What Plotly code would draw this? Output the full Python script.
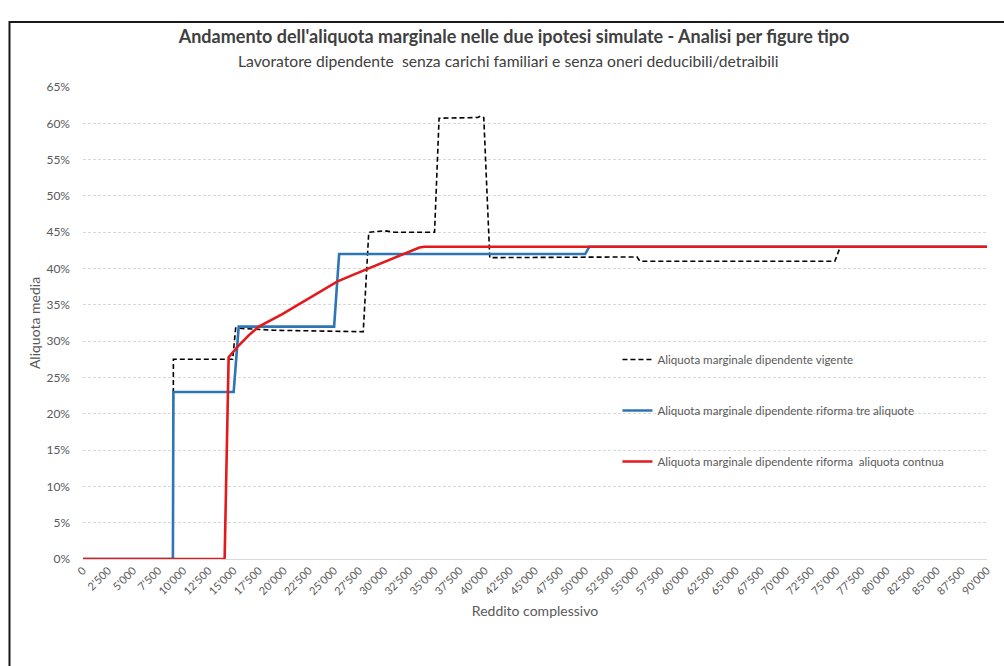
import plotly.graph_objects as go

# ---- Data (reddito in euro, aliquota in %) ----
vig_x = [0, 8950, 9000, 14900, 15200, 19000, 27900, 28450, 30000, 31000, 35000, 35450,
         39300, 39600, 39900, 40500, 55150, 55450, 74850, 75400, 90000]
vig_y = [0, 0, 27.5, 27.5, 31.8, 31.5, 31.3, 45.0, 45.2, 45.0, 45.0, 60.7,
         60.8, 61.0, 60.8, 41.5, 41.6, 41.0, 41.0, 43.0, 43.0]

tre_x = [0, 8950, 9000, 15000, 15500, 25000, 25500, 50000, 50400, 90000]
tre_y = [0, 0, 23.0, 23.0, 32.0, 32.0, 42.0, 42.0, 43.0, 43.0]

cont_x = [0, 14100, 14500, 15500, 16500, 17500, 19800, 21500, 23400, 25300, 27000,
          28400, 30700, 32700, 33500, 34000, 90000]
cont_y = [0, 0, 27.8, 29.4, 30.8, 32.0, 33.7, 35.1, 36.6, 38.2, 39.2,
          40.0, 41.3, 42.5, 42.9, 43.0, 43.0]

x_ticks = list(range(0, 90001, 2500))
x_labels = ["{:,}".format(v).replace(",", "'") for v in x_ticks]
y_ticks = list(range(0, 66, 5))
y_labels = [f"{v}%" for v in y_ticks]

names = ["Aliquota marginale dipendente vigente",
         "Aliquota marginale dipendente riforma tre aliquote",
         "Aliquota marginale dipendente riforma  aliquota contnua"]

FONT = "Lato, 'Liberation Sans', Arial, sans-serif"
GREY = "#595959"

fig = go.Figure()
fig.add_trace(go.Scatter(x=vig_x, y=vig_y, mode="lines", name=names[0], legendgroup="a",
                         line=dict(color="#000000", width=1.6, dash="5px,3px")))
fig.add_trace(go.Scatter(x=tre_x, y=tre_y, mode="lines", name=names[1], legendgroup="b",
                         line=dict(color="#2E75B6", width=2.6)))
fig.add_trace(go.Scatter(x=cont_x, y=cont_y, mode="lines", name=names[2], legendgroup="c",
                         line=dict(color="#E3191C", width=2.6)))

fig.update_layout(
    width=1004, height=666,
    margin=dict(l=83, r=11, t=87, b=107),
    paper_bgcolor="white", plot_bgcolor="white",
    font=dict(family=FONT, color=GREY),
    title=dict(text="Andamento dell'aliquota marginale nelle due ipotesi simulate - Analisi per figure tipo",
               x=514/1004, xref="container", xanchor="center",
               y=1-37/666, yref="container", yanchor="middle",
               font=dict(family=FONT, size=18, color="#404040", weight="bold")),
    showlegend=True,
    legend=dict(x=(621-83)/910, y=(559-345)/472, xanchor="left", yanchor="top",
                bgcolor="rgba(0,0,0,0)", font=dict(size=11.6, color=GREY),
                tracegroupgap=32, itemwidth=30),
    xaxis=dict(range=[0, 90000], tickmode="array", tickvals=x_ticks, ticktext=x_labels,
               tickangle=-45, tickfont=dict(size=11, color=GREY),
               showgrid=False, zeroline=False, showline=True, linecolor="#d9d9d9", linewidth=1,
               title=dict(text="Reddito complessivo", font=dict(size=14, color=GREY), standoff=10)),
    yaxis=dict(range=[0, 65], tickmode="array", tickvals=y_ticks, ticktext=y_labels,
               tickfont=dict(size=12, color=GREY), ticklabelstandoff=12,
               showgrid=True, gridcolor="#d9d9d9", gridwidth=1, griddash="3px,2px",
               zeroline=False, showline=False,
               title=dict(text="Aliquota media", font=dict(size=14, color=GREY), standoff=2)),
    annotations=[dict(text="Lavoratore dipendente  senza carichi familiari e senza oneri deducibili/detraibili",
                      x=(511-83)/910, y=(559-61)/472, xref="paper", yref="paper",
                      xanchor="center", yanchor="middle", showarrow=False,
                      font=dict(family=FONT, size=15.7, color="#404040"))],
    shapes=[dict(type="rect", xref="paper", yref="paper",
                 x0=(9-83)/910, x1=1.3, y0=-0.4, y1=(559-22)/472,
                 line=dict(color="#1a1a1a", width=2), fillcolor="rgba(0,0,0,0)", layer="below")],
)

fig.write_html("out.html", config={"displayModeBar": False},
               post_script="document.body.style.margin='0';document.body.style.overflow='hidden';")
